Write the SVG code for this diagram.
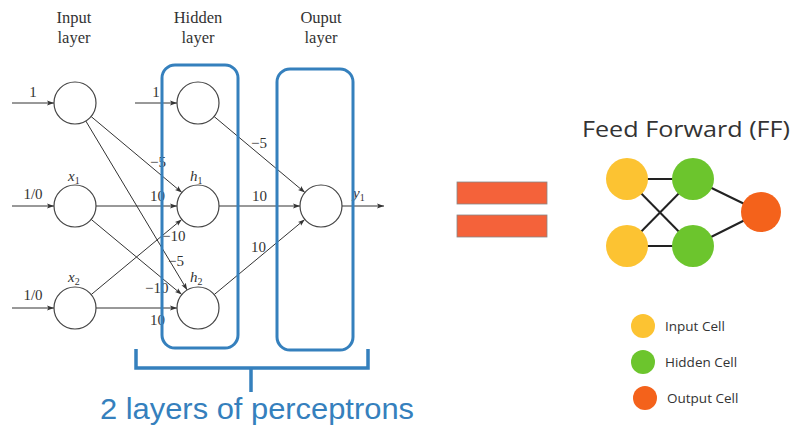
<svg xmlns="http://www.w3.org/2000/svg" width="800" height="428" viewBox="0 0 800 428">
<defs>
<marker id="ah" markerWidth="8" markerHeight="6" refX="7" refY="3" orient="auto" markerUnits="userSpaceOnUse">
<path d="M0,0.5 L7,3 L0,5.5 L1.5,3 Z" fill="#333"/>
</marker>
</defs>
<style>
.nn{fill:#fff;stroke:#444;stroke-width:1.2}
.e{stroke:#333;stroke-width:1;fill:none;marker-end:url(#ah)}
.t{font-family:"Liberation Serif","DejaVu Serif",serif;font-size:16.5px;fill:#333}
.ti{font-family:"Liberation Serif","DejaVu Serif",serif;font-size:15px;font-style:italic;fill:#333}
.w{font-family:"Liberation Serif","DejaVu Serif",serif;font-size:15px;fill:#333}
.box{fill:none;stroke:#3580bd;stroke-width:3}
.ff{font-family:"Open Sans","DejaVu Sans",sans-serif;fill:#333}
.eq{fill:#f4623a;stroke:#888;stroke-width:0.8}
.fl{stroke:#222;stroke-width:2}
</style>
<rect width="800" height="428" fill="#fff"/>

<g id="titles">
<text class="t" x="74" y="23" text-anchor="middle">Input</text>
<text class="t" x="74" y="43" text-anchor="middle">layer</text>
<text class="t" x="198" y="23" text-anchor="middle">Hidden</text>
<text class="t" x="198" y="43" text-anchor="middle">layer</text>
<text class="t" x="321" y="23" text-anchor="middle">Ouput</text>
<text class="t" x="321" y="43" text-anchor="middle">layer</text>
</g>

<g id="connectors">
<line class="e" x1="12" y1="103" x2="54" y2="103"/>
<line class="e" x1="12" y1="206" x2="54" y2="206"/>
<line class="e" x1="12" y1="308" x2="54" y2="308"/>
<line class="e" x1="135" y1="103" x2="177" y2="103"/>
<line class="e" x1="91.1" y1="116.5" x2="181.9" y2="192.5"/>
<line class="e" x1="85.8" y1="121" x2="187.2" y2="290"/>
<line class="e" x1="96" y1="206" x2="177" y2="206"/>
<line class="e" x1="91.2" y1="219.4" x2="181.8" y2="294.6"/>
<line class="e" x1="91.2" y1="294.6" x2="181.8" y2="219.4"/>
<line class="e" x1="96" y1="308" x2="177" y2="308"/>
<line class="e" x1="214.1" y1="116.5" x2="304.9" y2="192.5"/>
<line class="e" x1="219" y1="206" x2="300" y2="206"/>
<line class="e" x1="214.2" y1="294.6" x2="304.8" y2="219.4"/>
<line class="e" x1="342" y1="206" x2="384" y2="206"/>
</g>

<g id="input-nodes">
<circle class="nn" cx="75" cy="103" r="21"/>
<circle class="nn" cx="75" cy="206" r="21"/>
<circle class="nn" cx="75" cy="308" r="21"/>
</g>
<g id="hidden-nodes">
<circle class="nn" cx="198" cy="103" r="21"/>
<circle class="nn" cx="198" cy="206" r="21"/>
<circle class="nn" cx="198" cy="308" r="21"/>
</g>
<g id="output-node">
<circle class="nn" cx="321" cy="206" r="21"/>
</g>

<g id="labels">
<text class="w" x="33" y="97" text-anchor="middle">1</text>
<text class="w" x="156" y="97" text-anchor="middle">1</text>
<text class="w" x="33" y="199" text-anchor="middle">1/0</text>
<text class="w" x="33" y="300" text-anchor="middle">1/0</text>
<text class="ti" x="68" y="181">x<tspan font-size="10" dy="3" font-style="normal">1</tspan></text>
<text class="ti" x="68" y="282">x<tspan font-size="10" dy="3" font-style="normal">2</tspan></text>
<text class="ti" x="190" y="181">h<tspan font-size="10" dy="3" font-style="normal">1</tspan></text>
<text class="ti" x="190" y="282">h<tspan font-size="10" dy="3" font-style="normal">2</tspan></text>
<text class="ti" x="353" y="198">y<tspan font-size="10" dy="3" font-style="normal">1</tspan></text>
<text class="w" x="150" y="167">−5</text>
<text class="w" x="150" y="201">10</text>
<text class="w" x="162" y="241">−10</text>
<text class="w" x="168" y="266">−5</text>
<text class="w" x="145" y="293">−10</text>
<text class="w" x="150" y="325">10</text>
<text class="w" x="251" y="148">−5</text>
<text class="w" x="252" y="201">10</text>
<text class="w" x="251" y="252">10</text>
</g>

<g id="layer-boxes">
<rect class="box" x="162" y="65" width="76" height="283" rx="13"/>
<rect class="box" x="277" y="69" width="76" height="281" rx="13"/>
</g>

<g id="brace">
<path d="M136,349 V368 H251 V392 M251,368 H368 V349" fill="none" stroke="#3580bd" stroke-width="3.5"/>
<text x="257" y="419" text-anchor="middle" font-family="'Liberation Sans','DejaVu Sans',sans-serif" font-size="30" fill="#3580bd" textLength="314" lengthAdjust="spacingAndGlyphs">2 layers of perceptrons</text>
</g>

<g id="equals">
<rect class="eq" x="457" y="182" width="90" height="22"/>
<rect class="eq" x="457" y="215" width="90" height="22"/>
</g>

<g id="ff">
<text class="ff" x="582" y="137" font-size="21" textLength="208" lengthAdjust="spacingAndGlyphs">Feed Forward (FF)</text>
<line class="fl" x1="627" y1="179" x2="693" y2="179"/>
<line class="fl" x1="627" y1="246" x2="693" y2="246"/>
<line class="fl" x1="627" y1="179" x2="693" y2="246"/>
<line class="fl" x1="627" y1="246" x2="693" y2="179"/>
<line class="fl" x1="693" y1="179" x2="761" y2="212"/>
<line class="fl" x1="693" y1="246" x2="761" y2="212"/>
<circle cx="627" cy="179" r="21" fill="#fcc332"/>
<circle cx="627" cy="246" r="21" fill="#fcc332"/>
<circle cx="693" cy="179" r="21" fill="#6cc52d"/>
<circle cx="693" cy="246" r="21" fill="#6cc52d"/>
<circle cx="761" cy="212" r="20" fill="#f4621b"/>
</g>

<g id="legend">
<circle cx="643" cy="326" r="12" fill="#fcc332"/>
<text class="ff" x="665" y="331" font-size="13.5">Input Cell</text>
<circle cx="643" cy="362" r="12" fill="#6cc52d"/>
<text class="ff" x="665" y="367" font-size="13.5">Hidden Cell</text>
<circle cx="645" cy="398" r="12" fill="#f4621b"/>
<text class="ff" x="667" y="403" font-size="13.5">Output Cell</text>
</g>
</svg>
